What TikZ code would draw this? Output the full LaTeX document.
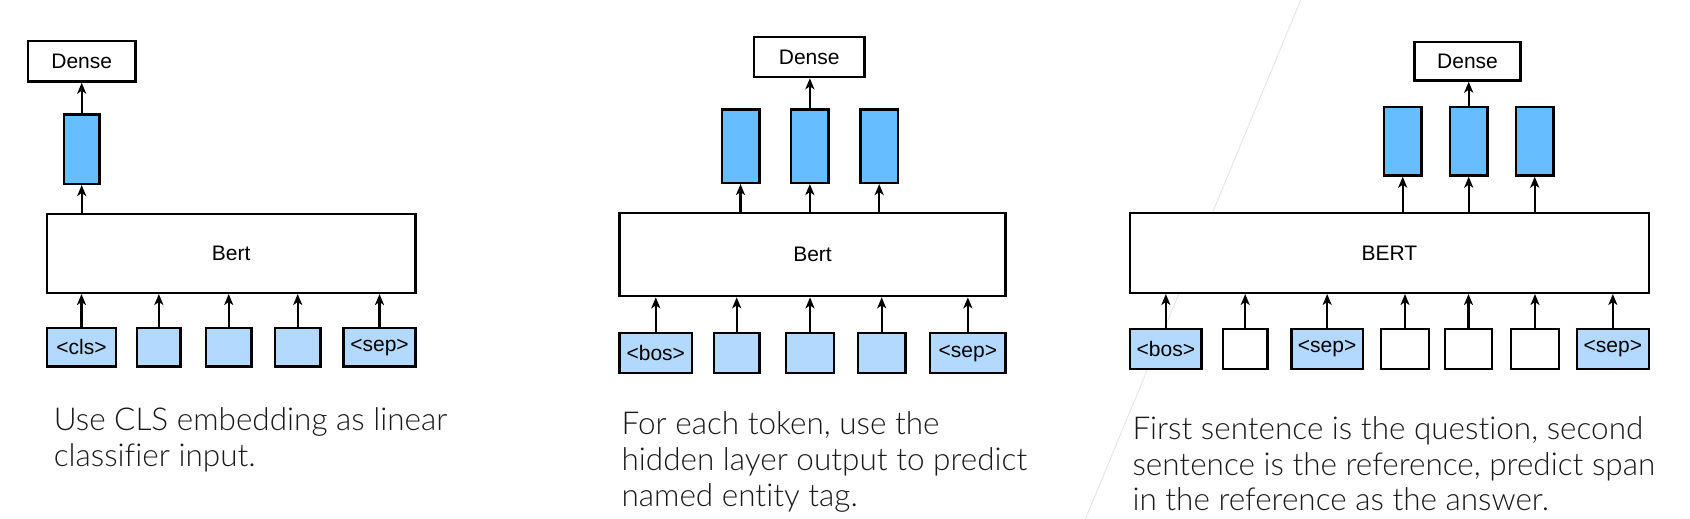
\documentclass[tikz,border=0pt]{standalone}
\usepackage{fontspec}
\setmainfont{Liberation Sans}
\IfFontExistsTF{Lato Light}{\newfontfamily\capfont[Ligatures=NoCommon]{Lato Light}}{\newfontfamily\capfont[Ligatures=NoCommon]{Lato}}
\usetikzlibrary{arrows.meta}
\definecolor{hidblue}{HTML}{64BEFF}
\definecolor{tokblue}{HTML}{B3D9FF}
\definecolor{faintgray}{HTML}{E6E6E6}
\tikzset{
  box/.style={draw=black, line width=2.4pt, rectangle, inner sep=0pt, font=\fontsize{21}{25}\selectfont},
  densebox/.style={box, fill=white},
  bertbox/.style={box, fill=white},
  hid/.style={box, fill=hidblue},
  tok/.style={box, fill=tokblue},
  plaintok/.style={box, fill=white},
  arr/.style={line width=2.4pt, -{Stealth[length=11pt,width=9pt,inset=3pt]}},
  captext/.style={anchor=base west, inner sep=0pt, font=\capfont\fontsize{31.5}{36}\selectfont, text=black!90},
}
\begin{document}
\begin{tikzpicture}[x=1pt,y=-1pt]
\useasboundingbox (0,0) rectangle (1690,519);
\draw[faintgray, line width=1pt] (1300.7,0) -- (1085.4,519);

% ---------- Panel 1 ----------
\node[densebox, minimum width=107.6pt, minimum height=40.3pt] (d1) at (81.7,61.35) {Dense};
\node[hid, minimum width=35.6pt, minimum height=69.3pt] (h1) at (81.7,149.2) {};
\node[bertbox, minimum width=368.6pt, minimum height=78.6pt] (b1) at (231.2,253.5) {Bert};
\node[tok, minimum width=69.2pt, minimum height=38.3pt] (t11) at (81.5,347.3) {<cls>};
\node[tok, minimum width=43.3pt, minimum height=38.3pt] (t12) at (158.85,347.3) {};
\node[tok, minimum width=45.6pt, minimum height=38.3pt] (t13) at (228.7,347.3) {};
\node[tok, minimum width=45.6pt, minimum height=38.3pt] (t14) at (297.7,347.3) {};
\node[tok, minimum width=72pt, minimum height=38.3pt] (t15) at (379.5,347.3) {<sep>};
\draw[arr] (h1.north) -- (h1.north |- d1.south);
\draw[arr] (b1.north -| h1) -- (h1.south);
\foreach \t in {t11,t12,t13,t14,t15}{\draw[arr] (\t.north) -- (\t.north |- b1.south);}
\node[captext] (c1a) at (53.6,430) {Use CLS embedding as linear};
\node[captext] (c1b) at (53.6,466.7) {classifier input.};

% ---------- Panel 2 ----------
\node[densebox, minimum width=110.6pt, minimum height=40.2pt] (d2) at (809.2,57) {Dense};
\node[hid, minimum width=37.6pt, minimum height=73.3pt] (h21) at (740.5,146.2) {};
\node[hid, minimum width=37.6pt, minimum height=73.3pt] (h22) at (809.85,146.2) {};
\node[hid, minimum width=37.6pt, minimum height=73.3pt] (h23) at (879.2,146.2) {};
\node[bertbox, minimum width=386pt, minimum height=82.9pt] (b2) at (812.5,254.7) {Bert};
\node[tok, minimum width=72.6pt, minimum height=39.9pt] (t21) at (655.8,353.2) {<bos>};
\node[tok, minimum width=45.6pt, minimum height=39.9pt] (t22) at (736.7,353.2) {};
\node[tok, minimum width=47.6pt, minimum height=39.9pt] (t23) at (810,353.2) {};
\node[tok, minimum width=47.6pt, minimum height=39.9pt] (t24) at (881.7,353.2) {};
\node[tok, minimum width=75.3pt, minimum height=39.9pt] (t25) at (967.85,353.2) {<sep>};
\draw[arr] (h22.north) -- (h22.north |- d2.south);
\foreach \h in {h21,h22,h23}{\draw[arr] (b2.north -| \h) -- (\h.south);}
\foreach \t in {t21,t22,t23,t24,t25}{\draw[arr] (\t.north) -- (\t.north |- b2.south);}
\node[captext] (c2a) at (621.4,434) {For each token, use the};
\node[captext] (c2b) at (621.4,470.7) {hidden layer output to predict};
\node[captext] (c2c) at (621.4,506.7) {named entity tag.};

% ---------- Panel 3 ----------
\node[densebox, minimum width=106pt, minimum height=38.6pt] (d3) at (1467.5,61.2) {Dense};
\node[hid, minimum width=37.6pt, minimum height=68.3pt] (h31) at (1402.7,141.35) {};
\node[hid, minimum width=37.6pt, minimum height=68.3pt] (h32) at (1468.7,141.35) {};
\node[hid, minimum width=37.6pt, minimum height=68.3pt] (h33) at (1534.7,141.35) {};
\node[bertbox, minimum width=518.6pt, minimum height=79.9pt] (b3) at (1389.5,252.85) {BERT};
\node[tok, minimum width=71.3pt, minimum height=40.2pt] (t31) at (1165.85,349) {<bos>};
\node[plaintok, minimum width=44.6pt, minimum height=40.2pt] (t32) at (1245.2,349) {};
\node[tok, minimum width=71.3pt, minimum height=40.2pt] (t33) at (1327.15,349) {<sep>};
\node[plaintok, minimum width=47.6pt, minimum height=40.2pt] (t34) at (1405,349) {};
\node[plaintok, minimum width=47.2pt, minimum height=40.2pt] (t35) at (1468.5,349) {};
\node[plaintok, minimum width=47.6pt, minimum height=40.2pt] (t36) at (1535,349) {};
\node[tok, minimum width=71.9pt, minimum height=40.2pt] (t37) at (1612.85,349) {<sep>};
\draw[arr] (h32.north) -- (h32.north |- d3.south);
\foreach \h in {h31,h32,h33}{\draw[arr] (b3.north -| \h) -- (\h.south);}
\foreach \t in {t31,t32,t33,t34,t35,t36,t37}{\draw[arr] (\t.north) -- (\t.north |- b3.south);}
\node[captext] (c3a) at (1132.3,439.3) {First sentence is the question, second};
\node[captext] (c3b) at (1132.3,475) {sentence is the reference, predict span};
\node[captext] (c3c) at (1132.3,510) {in the reference as the answer.};
\end{tikzpicture}
\end{document}
